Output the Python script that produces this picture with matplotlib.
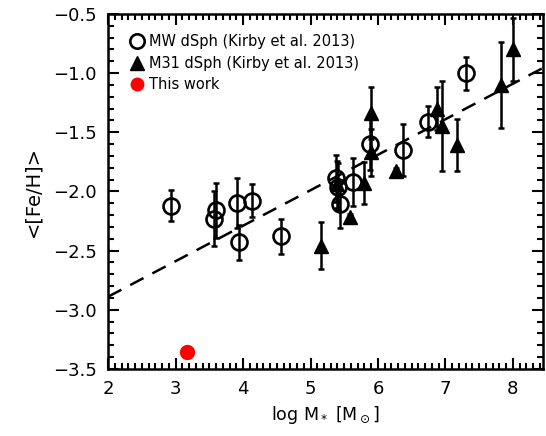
import numpy as np
import matplotlib.pyplot as plt
from matplotlib.ticker import MultipleLocator

# MW dSph (Kirby et al. 2013)
mw_logm = [2.93, 3.60, 3.57, 3.91, 3.94, 4.14, 4.57, 5.38, 5.41, 5.44, 5.63, 5.88, 6.37, 6.74, 7.30]
mw_feh = [-2.12, -2.16, -2.23, -2.10, -2.43, -2.08, -2.38, -1.89, -1.96, -2.11, -1.92, -1.60, -1.65, -1.41, -1.00]
mw_err = [0.13, 0.23, 0.23, 0.21, 0.15, 0.14, 0.15, 0.20, 0.20, 0.20, 0.20, 0.22, 0.22, 0.13, 0.14]

# M31 dSph (Kirby et al. 2013)
m31_logm = [5.16, 5.39, 5.59, 5.80, 5.90, 5.90, 6.27, 6.87, 6.95, 7.17, 7.83, 8.00]
m31_feh = [-2.46, -1.94, -2.22, -1.93, -1.67, -1.34, -1.83, -1.30, -1.45, -1.61, -1.10, -0.80]
m31_err = [0.20, 0.20, 0.03, 0.18, 0.20, 0.22, 0.03, 0.18, 0.38, 0.22, 0.36, 0.27]

# This work
tw_logm = [3.17]
tw_feh = [-3.36]

# mass-metallicity relation (Kirby et al. 2013)
fit_a = -1.69
fit_b = 0.30

fig = plt.figure(figsize=(5.46, 4.36), dpi=100)
ax = fig.add_axes([0.198, 0.154, 0.797, 0.814])

xx = np.array([2.0, 8.45])
ax.plot(xx, fit_a + fit_b * (xx - 6), 'k--', lw=1.8, dashes=(6, 4))

ax.errorbar(mw_logm, mw_feh, yerr=mw_err, fmt='none', ecolor='k', elinewidth=1.8,
            capsize=2, capthick=1.8)
ax.plot(mw_logm, mw_feh, 'o', mfc='none', mec='k', mew=1.9, ms=11.5,
        label='MW dSph (Kirby et al. 2013)')
ax.errorbar(m31_logm, m31_feh, yerr=m31_err, fmt='none', ecolor='k', elinewidth=1.8,
            capsize=2, capthick=1.8)
ax.plot(m31_logm, m31_feh, '^', color='k', ms=10.5,
        label='M31 dSph (Kirby et al. 2013)')
ax.plot(tw_logm, tw_feh, 'o', color='red', ms=10, label='This work')

ax.set_xlim(2, 8.45)
ax.set_ylim(-3.5, -0.5)
ax.xaxis.set_major_locator(MultipleLocator(1))
ax.xaxis.set_minor_locator(MultipleLocator(0.1))
ax.yaxis.set_major_locator(MultipleLocator(0.5))
ax.yaxis.set_minor_locator(MultipleLocator(0.1))
ax.tick_params(which='both', direction='in', top=True, right=True, width=1.5)
ax.tick_params(which='major', length=8, labelsize=13, pad=8)
ax.tick_params(which='minor', length=4)
for s in ax.spines.values():
    s.set_linewidth(1.8)

ax.set_xlabel(r'log M$_*$ [M$_\odot$]', fontsize=12.5)
ax.set_ylabel('<[Fe/H]>', fontsize=14, labelpad=8)

ax.legend(loc='upper left', frameon=False, handletextpad=0.2,
          borderaxespad=1.0, labelspacing=0.45, handlelength=1.2, markerscale=0.9,
          prop={'size': 10.5})

fig.savefig('out.png', dpi=100)
